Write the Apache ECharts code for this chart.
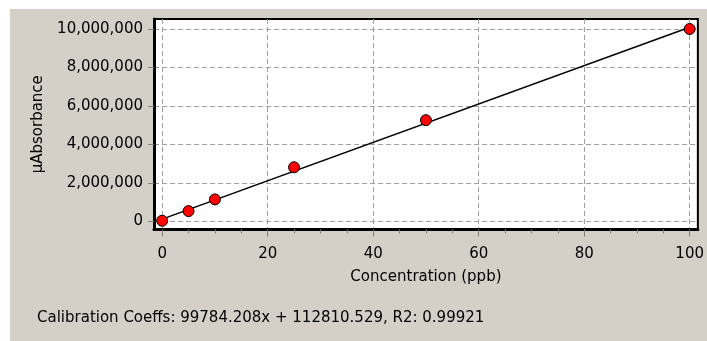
<!DOCTYPE html>
<html>
<head>
<meta charset="utf-8">
<script src="https://cdn.jsdelivr.net/npm/echarts@6/dist/echarts.min.js"></script>
<style>
  html, body { margin: 0; padding: 0; background: #ffffff; }
  #bg { position: absolute; left: 10px; top: 9px; width: 697px; height: 332px; background: #d4d0c8; }
  #chart { position: absolute; left: 0; top: 0; width: 707px; height: 341px; }
</style>
</head>
<body>
<div id="bg"></div>
<div id="chart"></div>
<script>
// calibration standards
var concentration = [0, 5, 10, 25, 50, 100];
var absorbance = [30000, 530000, 1140000, 2810000, 5260000, 10000000];
// fitted line end points
var fitX = [0, 100];
var fitY = [112811, 10091232];
// tick labels
var xTicks = [0, 20, 40, 60, 80, 100];
var xMinorTicks = [5, 10, 15, 25, 30, 35, 45, 50, 55, 65, 70, 75, 85, 90, 95];
var yTicks = [0, 2000000, 4000000, 6000000, 8000000, 10000000];
var coeffText = 'Calibration Coeffs: 99784.208x + 112810.529, R2: 0.99921';

var font = 'DejaVu Sans';
var chart = echarts.init(document.getElementById('chart'));

function pairs(xs, ys) {
    return xs.map(function (x, i) { return [x, ys[i]]; });
}

var dashed = {
    show: true,
    lineStyle: { color: '#a0a0a0', type: [5, 3], width: 1 }
};

var option = {
    backgroundColor: 'transparent',
    animation: false,
    textStyle: { fontFamily: font },
    grid: {
        left: 154,
        right: 7,
        top: 19,
        bottom: 111.5,
        show: true,
        backgroundColor: '#ffffff',
        borderColor: '#000000',
        borderWidth: 2
    },
    xAxis: [{
        type: 'value',
        min: -1.55,
        max: 101.55,
        name: 'Concentration (ppb)',
        nameLocation: 'middle',
        nameGap: 40,
        nameTextStyle: { color: '#000', fontSize: 15, fontFamily: font },
        axisLine: { show: true, onZero: false, lineStyle: { color: '#000', width: 3 } },
        axisTick: { show: true, customValues: xTicks, length: 7, lineStyle: { color: '#808080' } },
        axisLabel: { customValues: xTicks, color: '#000', fontSize: 15, margin: 17, fontFamily: font },
        splitLine: dashed
    }, {
        type: 'value',
        min: -1.55,
        max: 101.55,
        position: 'bottom',
        axisLine: { show: false, onZero: false },
        axisTick: { show: true, customValues: xMinorTicks, length: 4, lineStyle: { color: '#808080' } },
        axisLabel: { show: false },
        splitLine: { show: false }
    }],
    yAxis: {
        type: 'value',
        min: -426000,
        max: 10520000,
        name: 'µAbsorbance',
        nameLocation: 'middle',
        nameGap: 108,
        nameTextStyle: { color: '#000', fontSize: 15, fontFamily: font },
        axisLine: { show: true, onZero: false, lineStyle: { color: '#000', width: 3 } },
        axisTick: { show: true, customValues: yTicks, length: 6, lineStyle: { color: '#808080' } },
        axisLabel: {
            customValues: yTicks,
            color: '#000',
            fontSize: 15,
            margin: 11,
            fontFamily: font,
            formatter: function (v) { return v.toLocaleString('en-US'); }
        },
        splitLine: dashed
    },
    series: [{
        type: 'line',
        data: pairs(fitX, fitY),
        symbol: 'none',
        lineStyle: { color: '#000', width: 1.5 },
        z: 2
    }, {
        type: 'scatter',
        data: pairs(concentration, absorbance),
        symbol: 'circle',
        symbolSize: 11,
        itemStyle: { color: '#ff0000', borderColor: '#000', borderWidth: 1, opacity: 1 },
        z: 3
    }],
    graphic: [{
        type: 'text',
        left: 37,
        top: 311,
        style: { text: coeffText, fill: '#000', font: '15px "DejaVu Sans"' }
    }]
};

chart.setOption(option);
</script>
</body>
</html>
